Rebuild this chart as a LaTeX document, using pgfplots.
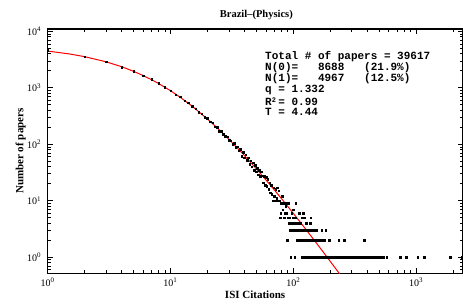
\documentclass[border=0pt]{standalone}
\usepackage{pgfplots}
\pgfplotsset{compat=1.18}
\usepackage{fontspec}
\setmainfont{Liberation Serif}
\newfontfamily\monofont{Liberation Mono}
\begin{document}
\begin{tikzpicture}
\begin{axis}[
  scale only axis, width=414.8pt, height=244.3pt,
  xmode=log, ymode=log,
  xmin=1, xmax=2390, ymin=0.52, ymax=11000,
  axis line style={line width=1.3pt},
  tick style={black, line width=0.7pt},
  major tick length=5pt, minor tick length=3pt,
  tick align=inside,
  xtick={1,10,100,1000},
  xticklabels={10\textsuperscript{0},10\textsuperscript{1},10\textsuperscript{2},10\textsuperscript{3}},
  minor xtick={2,3,4,5,6,7,8,9,20,30,40,50,60,70,80,90,200,300,400,500,600,700,800,900,2000},
  ytick={1,10,100,1000,10000},
  yticklabels={10\textsuperscript{0},10\textsuperscript{1},10\textsuperscript{2},10\textsuperscript{3},10\textsuperscript{4}},
  minor ytick={0.6,0.7,0.8,0.9,2,3,4,5,6,7,8,9,20,30,40,50,60,70,80,90,200,300,400,500,600,700,800,900,2000,3000,4000,5000,6000,7000,8000,9000},
  every tick label/.append style={font=\fontsize{10}{12}\selectfont},
  yticklabel style={xshift=-3pt},
  xticklabel style={yshift=-1pt},
  title={Brazil--(Physics)},
  title style={at={(axis description cs:0.503,1)}, anchor=center, yshift=8.4pt, font=\bfseries\fontsize{10.5}{12}\selectfont},
  xlabel={ISI Citations},
  xlabel style={at={(axis description cs:0.5,0)}, anchor=center, yshift=-21.7pt, font=\bfseries\fontsize{11}{13}\selectfont},
  clip=true,
]
\addplot[only marks, mark=square*, mark size=0.75pt, black] table {
x y
1 4600
2 3550
3 2900
4 2320
5 1960
6 1640
7 1420
8 1210
9 1030
10 880
11 760
12 690
13 590
14 545
15 470
16 430
17 370
18 350
19 300
20 290
21 250
22 240
23 205
24 200
25 172
26 170
27 150
28 138
29 135
30 118
31 116
32 101
33 104
34 88
35 90
36 77
37 82
38 62
39 72
40 58
41 66
42 52
43 58
44 44
45 51
46 40
47 47
48 35
49 43
50 33
51 38
52 29
53 35
54 27
55 33
56 28
57 21
58 27
59 19
60 26
61 18
62 24
63 16
64 21
65 14
66 19
67 13
68 10
69 17
70 12
71 10
72 16
73 11
74 17
75 10
76 15
77 10
78 5
79 6
80 9
81 12
82 7
83 9
84 5
85 6
86 9
87 8
88 6
89 2
90 5
91 9
92 4
93 5
94 3
95 1
96 4
97 6
98 3
99 5
100 7
101 3
102 4
103 1
104 5
105 9
106 3
107 4
108 2
109 3
110 4
111 2
112 6
113 3
114 2
115 4
116 3
117 1
118 5
119 2
120 6
121 1
122 3
123 2
124 5
125 1
126 2
127 3
128 4
129 1
130 2
132 3
133 1
134 2
136 3
137 1
138 4
139 5
140 2
141 1
143 3
144 2
146 1
147 2
149 3
150 1
152 2
154 3
155 1
157 2
159 1
161 2
163 1
165 2
167 1
170 3
171 1
173 2
175 1
178 1
181 2
183 3
185 1
188 1
191 1
196 2
198 1
202 1
206 1
210 1
215 1
219 1
224 1
228 1
233 1
235 2
238 1
243 1
248 1
253 1
260 2
262 1
268 1
274 1
280 1
287 1
293 1
300 1
307 1
314 1
321 1
328 1
336 1
344 1
349 1
360 1
370 1
378 2
380 1
392 1
402 1
412 1
425 1
437 1
448 1
462 1
477 1
490 1
505 1
520 1
541 1
576 1
740 1
828 1
1036 1
1160 1
1890 1
2353 1
};
\addplot[red, line width=1pt] table {
x y
1 4470
1.5 3981
2 3562
3 2882
4 2364
5 1962
6 1647
7 1394
8 1192
10 889
12 681
15 474
20 281
25 180
30 122
40 63.4
50 36.9
60 23.3
70 15.66
85 9.35
100 6.01
120 3.63
150 1.936
170 1.354
200 0.848
240 0.499
260 0.3945
};
\end{axis}
\node[rotate=90, anchor=center, inner sep=0pt, font=\bfseries\fontsize{11}{13}\selectfont] at (-27pt,122.2pt) {Number of papers};
\node[anchor=north west, inner sep=0pt, align=left, font=\monofont\bfseries\fontsize{11}{9.6}\selectfont] at (217.3pt,222.6pt)
{Total \# of papers = 39617\\
N(0)=\ \ \ 8688\ \ \ (21.9\%)\\
N(1)=\ \ \ 4967\ \ \ (12.5\%)\\
q = 1.332\\[2pt]
R\rlap{\raisebox{0.6ex}{\fontsize{7}{8}\selectfont 2}}\ = 0.99\\
T = 4.44};
\pgfresetboundingbox
\path[use as bounding box] (-47.7pt,-30.7pt) rectangle (415.3pt,273.3pt);
\end{tikzpicture}
\end{document}
